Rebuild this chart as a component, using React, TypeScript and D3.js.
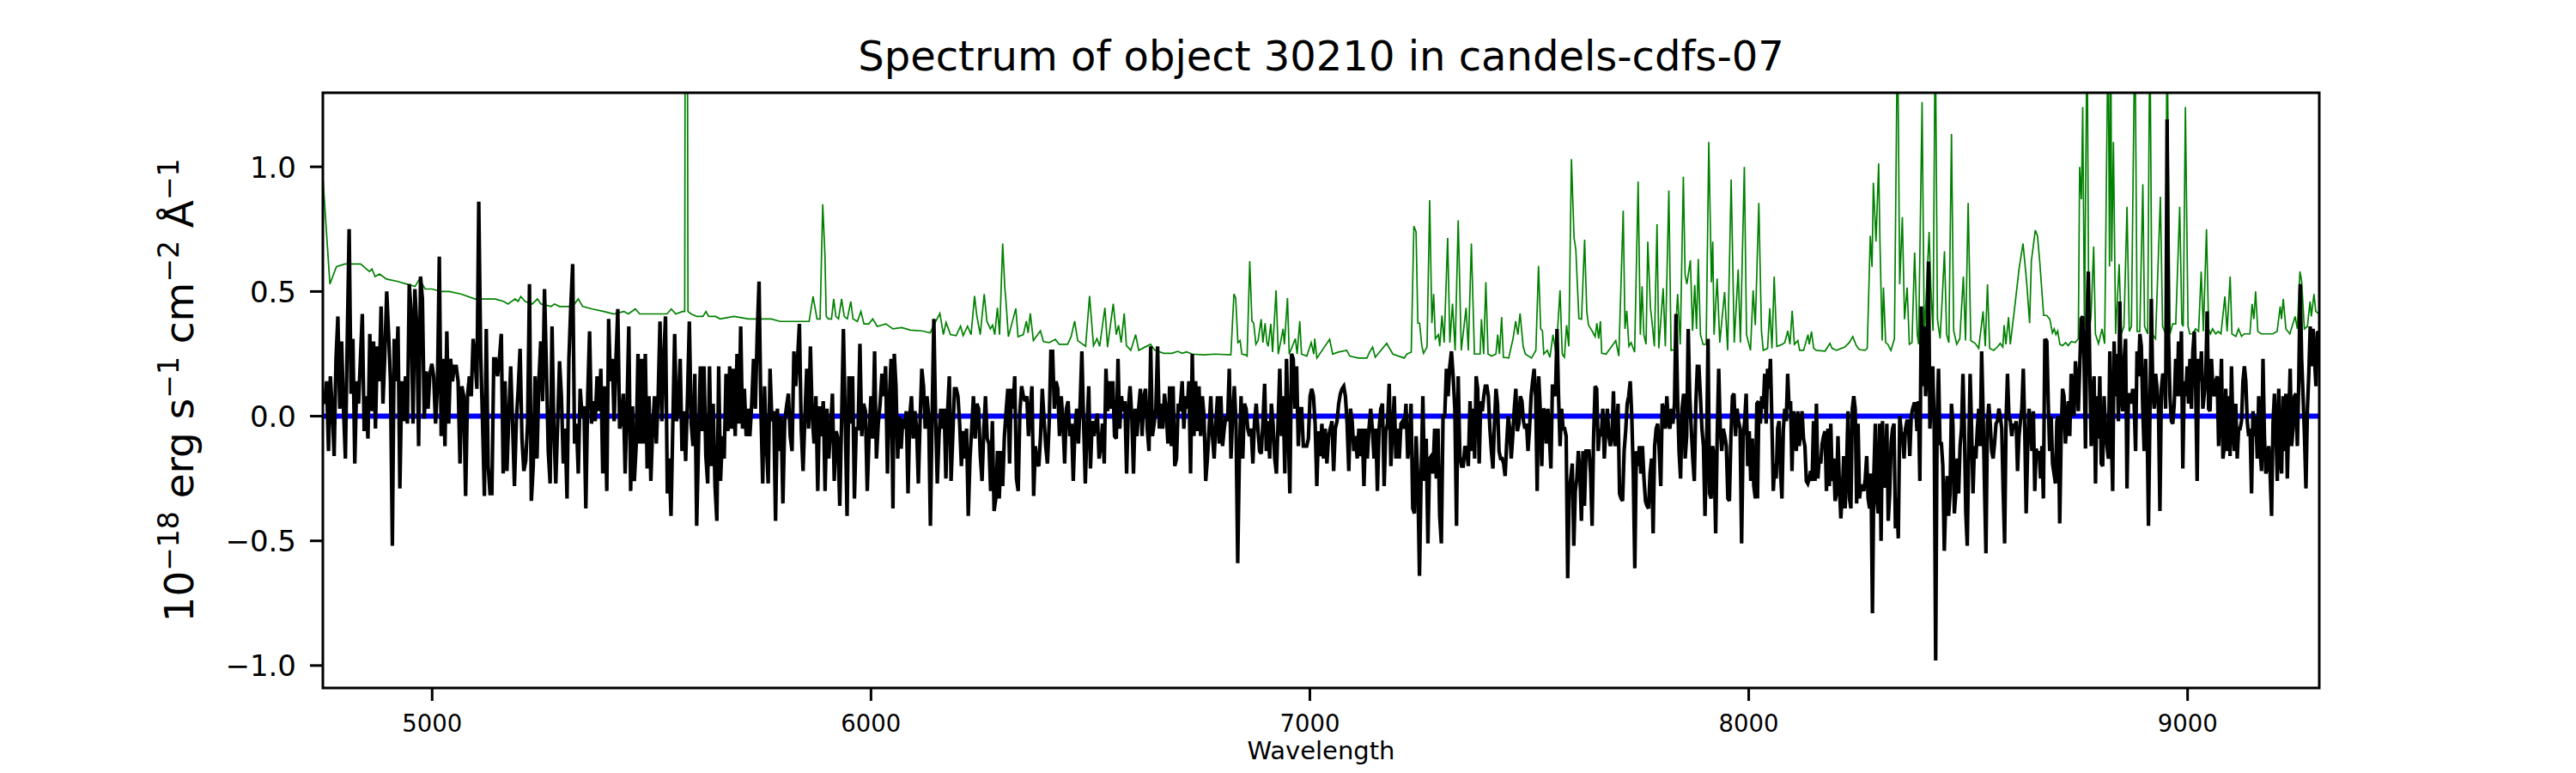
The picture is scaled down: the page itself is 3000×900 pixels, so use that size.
import React from "react";
import * as d3 from "d3";

// ---------- data ----------
const titleText = "Spectrum of object 30210 in candels-cdfs-07";
const xLabelText = "Wavelength";
const xTickValues = [5000, 6000, 7000, 8000, 9000];
const yTickValues = [-1.0, -0.5, 0.0, 0.5, 1.0];
const xDomain = [4751, 9300];
const yDomain = [-1.09, 1.297];

// wavelength ranges covered by each flux segment (evenly sampled inside)
const segmentRanges = [
  [4751, 5393],
  [5398, 6050],
  [6053, 6704],
  [6709, 7361],
  [7365, 8022],
  [8020, 8678],
  [8676, 9299],
];

const fluxSeg1 = [0.05,0.06,0.14,-0.14,0.16,0.03,-0.16,0.23,0.40,0.03,0.30,0.03,-0.17,0.31,0.75,0.09,0.31,-0.19,0.14,0.05,0.23,0.41,-0.06,0.08,-0.09,0.33,0.02,0.30,-0.05,0.28,0.14,0.44,0.05,0.25,0.50,0.33,0.14,-0.52,0.31,0.14,0.36,-0.29,0.14,-0.02,0.16,-0.03,0.53,0.42,-0.03,0.51,0.36,-0.12,0.56,0.47,-0.01,0.18,0.03,0.17,0.21,0.16,-0.03,0.12,0.64,-0.08,0.23,-0.12,0.34,-0.03,0.23,0.14,0.20,0.20,0.14,-0.19,0.12,0.08,-0.32,0.08,0.16,0.08,0.31,0.23,0.11,0.86,0.26,-0.02,-0.32,0.35,-0.20,-0.31,-0.31,0.23,0.23,0.16,0.23,0.33,-0.23,0.14,-0.22,0.00,0.20,-0.03,-0.28,-0.02,0.11,0.27,-0.09,-0.22,-0.18,-0.03,0.53,-0.34,-0.20,0.16,-0.17,0.14,0.30,0.06,0.51,0.20,-0.14,-0.27,0.36,-0.05,-0.27,-0.03,0.22,0.08,-0.19,-0.05,-0.33,0.23,0.44,0.61,-0.11,-0.03,-0.23,0.11,0.00,0.04,-0.37,0.08,0.34,-0.03,0.06,-0.02,0.16,0.02,0.19,-0.23,0.12];

const fluxSeg2 = [-0.30,0.39,0.14,0.23,-0.02,0.23,0.43,-0.05,-0.02,0.09,-0.23,0.03,0.36,-0.30,0.04,-0.26,-0.12,0.25,-0.11,0.23,-0.11,0.25,-0.21,0.08,-0.26,-0.05,0.08,-0.11,0.08,0.38,-0.02,0.22,0.40,-0.31,-0.17,-0.40,-0.03,0.33,-0.02,0.03,0.23,-0.14,0.02,-0.18,0.08,0.38,-0.03,-0.12,0.17,-0.44,-0.11,0.20,-0.06,0.20,-0.16,-0.27,0.20,-0.20,0.05,-0.28,-0.42,0.20,-0.26,-0.08,-0.17,0.17,-0.06,0.20,-0.05,0.19,-0.08,0.25,-0.03,0.36,-0.05,0.11,-0.08,0.03,-0.08,0.05,0.23,0.03,0.33,0.54,0.03,-0.27,0.12,-0.11,-0.27,0.19,-0.02,0.02,-0.42,0.03,-0.14,0.00,-0.35,-0.02,0.04,0.09,-0.08,-0.14,0.26,0.12,0.23,0.37,-0.05,-0.22,0.00,0.19,-0.05,0.28,0.00,-0.11,0.08,-0.30,0.04,-0.08,0.06,-0.30,0.03,-0.17,-0.05,0.09,-0.26,-0.06,-0.09,-0.36,-0.02,0.35,-0.02,-0.40,0.16,-0.03,0.16,-0.33,-0.05,-0.05,0.29,-0.08,0.05,0.02,-0.30,-0.08,0.08,-0.09,0.26,-0.17,-0.03,0.05,0.17,0.08,0.20,-0.23,0.06,0.23,-0.37];

const fluxSeg3 = [0.25,0.12,-0.17,0.00,-0.13,-0.01,-0.05,0.02,-0.31,0.00,0.08,-0.09,0.02,-0.05,-0.27,-0.02,0.19,0.12,-0.05,0.08,0.00,-0.44,0.00,0.39,0.00,-0.27,-0.08,0.03,-0.05,0.03,-0.25,0.02,0.16,-0.26,-0.08,0.11,0.11,0.08,-0.03,-0.20,-0.06,-0.17,-0.05,-0.40,-0.17,-0.05,0.08,-0.09,0.05,0.03,-0.16,-0.26,-0.06,0.08,-0.09,-0.11,-0.30,-0.02,-0.38,-0.33,-0.14,-0.33,-0.14,-0.28,-0.08,0.02,0.11,-0.19,0.11,0.03,0.16,-0.25,-0.30,0.02,0.12,0.08,0.06,0.08,-0.08,0.03,0.12,-0.32,-0.12,-0.19,-0.20,-0.08,0.11,-0.01,-0.12,-0.19,-0.03,0.26,0.26,0.03,0.14,0.11,-0.08,0.08,-0.02,-0.19,0.03,0.06,-0.08,-0.03,-0.26,-0.05,0.03,-0.11,0.05,0.26,-0.02,-0.27,-0.05,0.12,-0.21,-0.02,-0.08,-0.03,0.01,-0.17,-0.12,-0.03,-0.19,0.19,0.02,0.14,0.03,0.14,-0.08,-0.09,0.23,-0.05,0.08,0.02,0.06,-0.23,0.03,0.12,0.00,-0.23,0.03,-0.08,0.03,0.11,-0.08,0.08,0.11,-0.05,-0.14,0.28,-0.08,-0.03,0.03,0.28,-0.05,0.05,-0.05,0.09,0.02,-0.11,0.12,-0.12,0.12,-0.20,-0.17,0.05,0.02];

const fluxSeg4 = [0.14,-0.05,0.08,0.03,0.14,-0.23,0.25,-0.08,0.14,-0.06,0.12,-0.08,0.08,0.00,-0.26,-0.17,-0.05,0.08,-0.08,-0.17,-0.03,0.08,-0.11,0.08,-0.12,-0.05,0.00,-0.02,0.19,-0.17,0.00,0.12,-0.03,-0.59,-0.16,0.08,-0.17,0.05,0.03,-0.05,-0.08,-0.05,-0.19,-0.02,0.05,-0.05,-0.14,-0.15,-0.02,0.13,-0.14,-0.02,-0.17,0.05,-0.03,-0.17,-0.23,-0.02,0.19,-0.08,0.08,-0.23,0.23,-0.05,-0.31,0.25,0.23,0.03,0.20,-0.12,0.03,0.03,-0.12,-0.12,-0.12,-0.09,0.08,0.11,0.08,-0.03,-0.28,-0.06,-0.16,-0.03,-0.17,-0.05,-0.19,-0.08,-0.05,-0.02,-0.22,-0.05,-0.02,0.05,0.09,0.11,0.12,0.08,-0.03,-0.22,0.03,-0.02,-0.14,-0.08,-0.17,-0.05,-0.16,-0.05,-0.28,-0.05,-0.17,-0.05,0.03,-0.05,-0.17,-0.05,-0.30,-0.05,0.03,0.05,-0.28,-0.06,-0.03,0.13,-0.20,-0.05,0.08,-0.17,-0.05,-0.17,-0.03,-0.02,-0.05,0.05,-0.17,-0.11,0.05,-0.37,-0.39,-0.08,-0.25,-0.64,-0.23,0.08,-0.26,-0.09,-0.51,-0.17,-0.16,-0.23,-0.05,-0.25,-0.05,-0.40,-0.51,0.00,0.00,0.19,0.08,0.20,0.26,0.16,0.03,-0.44,0.16,-0.16,-0.20,-0.20,-0.12,-0.14,-0.20];

const fluxSeg5 = [0.06,-0.14,0.03,-0.17,0.16,0.11,-0.19,0.06,0.02,0.08,0.12,0.12,0.08,-0.05,-0.14,-0.21,-0.03,0.11,0.05,-0.14,-0.17,-0.17,-0.19,-0.24,-0.11,0.00,-0.05,-0.17,-0.08,0.03,0.11,-0.06,-0.03,0.08,0.06,-0.02,-0.05,-0.03,-0.14,-0.05,0.08,0.14,0.19,0.08,-0.30,0.16,0.03,-0.20,0.03,0.02,-0.11,0.03,-0.08,-0.21,0.12,0.12,0.08,0.35,0.08,-0.12,0.03,-0.05,-0.05,-0.08,-0.65,-0.30,-0.25,-0.19,-0.52,-0.30,-0.25,-0.14,-0.23,-0.42,-0.14,-0.36,-0.14,-0.14,-0.14,-0.23,-0.44,-0.08,0.12,0.11,-0.14,-0.05,-0.08,0.03,-0.17,-0.05,0.03,-0.08,-0.12,-0.08,0.10,-0.12,-0.08,0.05,-0.31,-0.33,-0.34,-0.14,-0.06,0.05,0.08,0.14,0.00,-0.23,-0.61,-0.14,-0.20,-0.12,-0.23,-0.12,-0.25,-0.34,-0.36,-0.37,-0.23,-0.17,-0.47,-0.12,-0.05,-0.03,-0.14,-0.28,0.05,0.02,-0.05,0.08,-0.03,-0.05,0.03,-0.03,0.05,0.41,0.08,-0.14,-0.25,0.03,0.09,-0.17,-0.08,0.35,0.08,-0.05,-0.17,-0.26,0.05,0.20,0.20,0.08,-0.05,-0.12,-0.40,-0.14,0.31,-0.31,-0.33,-0.12,-0.16,-0.47,-0.08,0.19,-0.05,-0.14,-0.05,-0.08,-0.12,-0.33,-0.34,-0.08,0.08,0.09,-0.08,0.03,-0.02,-0.05,-0.51,-0.08,-0.02,0.09,-0.20,-0.06,-0.26,-0.09,-0.28,-0.33,0.05,0.06];

const fluxSeg6 = [-0.33,0.06,-0.03,0.08,0.03,0.17,-0.03,0.19,0.11,0.23,-0.02,-0.30,-0.19,-0.25,-0.05,-0.02,-0.22,-0.33,-0.05,0.03,-0.02,0.17,0.03,0.06,-0.22,0.02,-0.02,-0.14,0.02,-0.12,-0.06,0.02,-0.09,-0.12,-0.26,-0.27,-0.25,-0.22,-0.26,-0.02,-0.26,0.05,-0.25,-0.17,-0.19,-0.11,-0.08,-0.06,-0.30,-0.05,-0.28,-0.03,-0.26,-0.17,-0.34,-0.31,-0.08,-0.28,-0.41,-0.31,-0.16,-0.37,-0.20,0.02,-0.33,-0.37,0.03,0.08,0.03,-0.35,-0.03,-0.33,-0.28,-0.28,-0.30,-0.25,-0.16,-0.33,-0.37,-0.23,-0.79,-0.23,-0.03,-0.33,-0.39,-0.03,-0.50,-0.02,-0.28,-0.28,-0.03,-0.42,-0.31,-0.11,-0.05,-0.03,-0.45,-0.33,-0.49,0.00,-0.06,-0.08,-0.17,-0.05,-0.02,-0.02,-0.16,0.00,0.03,0.05,0.05,-0.06,0.06,-0.26,0.44,0.12,0.36,0.08,0.20,0.62,-0.05,0.08,0.20,-0.05,-0.98,-0.02,0.19,-0.11,-0.11,-0.20,-0.54,-0.34,-0.24,-0.40,-0.31,0.05,-0.03,-0.39,-0.31,-0.17,-0.31,-0.12,-0.05,0.17,-0.05,-0.39,-0.52,-0.14,0.17,-0.05,-0.31,-0.12,-0.17,-0.05,0.03,-0.12,0.26,0.02,-0.28,-0.55,-0.03,0.05,-0.03,-0.14,-0.17,-0.11,-0.03,-0.02,0.03,0.00,-0.05,-0.30,-0.51,-0.02,0.17,0.00,-0.02,-0.08,-0.03,-0.05,-0.02,-0.22,-0.08,-0.02,0.03,0.19,-0.05,-0.39,-0.14,0.03,-0.03,-0.14,0.02,-0.30,-0.13,-0.17,-0.14,-0.25,-0.12,-0.33,0.31,0.20];

const fluxSeg7 = [0.31,0.30,0.05,-0.14,0.00,-0.19,-0.23,-0.27,-0.02,0.00,-0.43,-0.08,0.11,0.08,-0.11,-0.02,0.06,-0.08,0.17,0.12,0.00,0.22,0.14,0.02,0.20,0.39,0.40,0.23,-0.13,0.39,0.58,0.20,-0.12,0.08,0.16,-0.27,0.08,-0.09,0.16,-0.19,-0.20,0.08,-0.05,-0.12,-0.17,0.26,-0.06,-0.30,0.30,0.08,0.25,-0.02,0.46,0.08,0.02,0.23,0.31,-0.29,0.08,0.09,0.05,0.11,0.05,-0.14,0.26,0.16,0.33,0.28,0.03,-0.14,0.23,0.00,-0.44,0.00,0.47,0.11,0.03,0.17,0.11,0.03,-0.38,0.11,0.17,0.16,0.03,1.19,0.33,0.08,-0.02,-0.03,0.05,0.23,0.08,0.30,0.08,0.34,-0.21,0.14,0.08,0.20,0.05,0.23,0.03,0.26,0.34,0.11,-0.26,0.23,0.14,0.26,0.03,0.09,0.16,0.42,0.03,0.02,0.23,0.11,0.08,0.14,0.16,-0.12,0.03,0.23,-0.17,-0.12,0.11,-0.14,0.08,-0.16,0.20,-0.05,-0.14,0.05,-0.17,-0.05,-0.05,-0.02,0.14,0.20,0.14,-0.02,-0.08,-0.05,-0.31,0.02,-0.08,0.00,-0.17,0.08,-0.14,-0.22,0.23,-0.08,-0.23,-0.20,-0.12,-0.23,-0.40,-0.03,0.09,-0.05,-0.26,0.11,-0.17,-0.23,0.08,-0.14,0.09,-0.25,0.00,0.19,-0.12,-0.05,0.08,0.09,-0.12,0.14,0.53,0.23,0.08,-0.08,-0.29,0.02,0.17,0.36,0.20,0.35,0.23,0.12,0.34,0.33];

const fluxSegments = [fluxSeg1, fluxSeg2, fluxSeg3, fluxSeg4, fluxSeg5, fluxSeg6, fluxSeg7];

// sky spectrum (green): wavelength / flux pairs
const skyWave = [
  4751,4767,4782,4801,4837,4857,4863,4870,4880,4896,4922,4941,4961,4971,4984,5000,5020,5039,5065,5098,5118,5144,5163,5173,5189,5196,5202,5212,5228,5240,5248,5271,5279,5290,5320,5333,5343,5365,5391,
  5414,5437,5447,5463,5473,5512,5535,5545,5555,5571,5575.5,5577.5,5580.5,5583,5590,5603,5617,5624,5630,5646,5656,5688,5721,5747,5773,5793,5819,5859,5868,5877,5884,5890,5895,5898,5903,5910,5915,5920,5926,5933,5939,5946,5954,5959,5969,5977,5984,5995,6004,6014,6034,6050,
  6070,6090,6116,6135,6142,6157,6165,6171,6181,6194,6204,6210,6220,6228,6236,6241,6249,6258,6264,6272,6277,6282,6288,6293,6300,6305,6307,6313,6319,6330,6335,6347,6354,6358,6363,6370,6386,6393,6406,6420,6429,6448,6456,6464,6471,6489,6498,6507,6515,6521,6533,6539,6552,6559,6564,6570,6577,6582,6592,6603,6610,6624,6637,6647,6667,6686,6699,
  6709,6719,6732,6758,6784,6820,6827,6831,6836,6841,6845,6853,6857,6863,6868,6872,6877,6882,6889,6893,6898,6902,6905,6911,6915,6923,6928,6939,6942,6949,6953,6967,6971,6977,6981,6993,7003,7009,7011,7016,7045,7052,7065,7084,7091,7110,7130,7136,7143,7149,7175,7189,7215,7221,7231,7237,7242,7246,7250,7255,7259,7267,7273,7278,7282,7286,7293,7296,7301,7306,7314,7319,7325,7331,7338,7345,7356,7361,7368,
  7375,7388,7391,7396,7401,7406,7414,7424,7428,7432,7437,7441,7453,7463,7469,7474,7479,7486,7491,7505,7515,7521,7526,7530,7533,7541,7547,7554,7561,7570,7575,7580,7585,7590,7596,7602,7606,7613,7619,7626,7631,7635,7643,7650,7654,7658,7662,7665,7675,7681,7691,7697,7704,7714,7718,7722,7727,7732,7740,7748,7753,7757,7761,7766,7770,7776,7779,7785,7791,7795,7805,7810,7818,7823,7831,7838,7844,7851,7855,7859,7867,7872,7877,7881,7885,7890,7896,7903,7909,7915,7918,7921,7928,7934,7945,7952,7960,7967,7976,7981,7990,7995,8004,8010,8015,8023,
  8029,8033,8043,8048,8053,8058,8064,8069,8076,8082,8089,8094,8099,8104,8112,8116,8125,8135,8138,8143,8148,8154,8174,8185,8190,8200,8219,8229,8237,8245,8252,8265,8270,8277,8281,8284,8290,8296,8299,8304,8307,8312,8317,8324,8332,8339,8344,8350,8355,8361,8366,8372,8378,8384,8387,8395,8400,8406,8411,8415,8420,8425,8430,8436,8441,8446,8451,8456,8462,8467,8474,8481,8489,8494,8500,8506,8516,8524,8534,8539,8544,8549,8558,8568,8573,8579,8582,8586,8592,8596,8607,8616,8625,8633,8640,8644,8653,8658,8663,8672,
  8679,8686,8692,8696,8700,8704,8709,8715,8722,8728,8735,8744,8751,8754,8758,8761,8765,8771,8775,8780,8786,8790,8797,8805,8811,8819,8822,8825,8827,8831,8836,8844,8849,8855,8862,8867,8872,8880,8885,8891,8898,8902,8909,8914,8919,8927,8938,8943,8950,8953,8960,8966,8973,8982,8987,8990,8995,9001,9005,9012,9018,9025,9031,9036,9043,9048,9052,9057,9064,9070,9076,9085,9090,9097,9101,9110,9116,9123,9129,9142,9147,9151,9155,9160,9168,9181,9194,9204,9211,9214,9218,9224,9233,9245,9250,9256,9260,9266,9273,9279,9282,9288,9292,9300,
];
const skyFlux = [
  0.96,0.53,0.60,0.61,0.61,0.58,0.59,0.56,0.57,0.55,0.54,0.53,0.52,0.55,0.51,0.51,0.50,0.50,0.49,0.47,0.47,0.47,0.46,0.45,0.47,0.46,0.48,0.46,0.45,0.47,0.45,0.44,0.45,0.44,0.44,0.47,0.44,0.43,0.42,
  0.41,0.42,0.41,0.43,0.41,0.41,0.41,0.43,0.41,0.42,0.42,2.6,2.6,0.42,0.41,0.40,0.40,0.42,0.40,0.40,0.39,0.40,0.39,0.39,0.39,0.38,0.38,0.38,0.48,0.39,0.39,0.85,0.65,0.40,0.39,0.39,0.47,0.40,0.39,0.47,0.40,0.39,0.46,0.39,0.38,0.42,0.37,0.37,0.39,0.36,0.37,0.35,
  0.355,0.345,0.342,0.334,0.361,0.412,0.327,0.376,0.327,0.323,0.361,0.323,0.361,0.327,0.482,0.404,0.327,0.490,0.381,0.350,0.365,0.327,0.435,0.327,0.692,0.513,0.474,0.319,0.358,0.432,0.319,0.327,0.381,0.334,0.412,0.303,0.342,0.299,0.295,0.308,0.288,0.288,0.319,0.381,0.303,0.280,0.482,0.283,0.311,0.280,0.435,0.277,0.451,0.327,0.365,0.295,0.412,0.283,0.264,0.327,0.264,0.277,0.288,0.264,0.252,0.252,0.260,
  0.252,0.258,0.249,0.246,0.249,0.246,0.490,0.474,0.295,0.303,0.249,0.246,0.241,0.622,0.381,0.373,0.288,0.303,0.389,0.295,0.373,0.295,0.280,0.370,0.257,0.505,0.249,0.350,0.288,0.474,0.249,0.311,0.249,0.381,0.249,0.241,0.295,0.249,0.311,0.233,0.308,0.249,0.257,0.264,0.241,0.233,0.233,0.257,0.277,0.236,0.292,0.249,0.233,0.249,0.257,0.762,0.739,0.373,0.373,0.283,0.252,0.277,0.866,0.373,0.490,0.311,0.327,0.280,0.404,0.295,0.715,0.295,0.451,0.264,0.785,0.264,0.435,0.264,0.692,
  0.249,0.249,0.389,0.249,0.537,0.249,0.241,0.249,0.327,0.249,0.397,0.236,0.233,0.311,0.381,0.327,0.412,0.280,0.249,0.233,0.264,0.603,0.350,0.342,0.249,0.264,0.236,0.327,0.249,0.505,0.249,0.236,0.365,0.280,1.031,0.715,0.669,0.392,0.389,0.708,0.420,0.365,0.342,0.319,0.373,0.311,0.381,0.252,0.249,0.264,0.288,0.303,0.241,0.824,0.350,0.423,0.280,0.295,0.257,0.941,0.327,0.521,0.327,0.288,0.700,0.435,0.389,0.280,0.770,0.272,0.513,0.280,0.905,0.264,0.267,0.490,0.288,0.960,0.568,0.529,0.625,0.342,0.526,0.350,0.630,0.327,0.288,0.288,1.100,0.537,0.700,0.327,0.552,0.295,0.498,0.264,0.949,0.295,0.588,0.295,1.000,0.327,0.264,0.505,0.365,0.855,
  0.342,0.264,0.272,0.432,0.272,0.560,0.280,0.283,0.288,0.295,0.342,0.288,0.423,0.288,0.303,0.264,0.264,0.327,0.288,0.339,0.272,0.264,0.261,0.292,0.272,0.264,0.277,0.295,0.319,0.283,0.267,0.264,0.272,0.723,0.599,0.936,0.700,1.014,0.700,0.303,0.516,0.295,0.288,0.264,0.311,1.6,0.529,0.798,0.389,0.516,0.288,0.295,0.656,0.327,0.288,1.26,0.311,0.544,0.739,0.513,0.342,1.6,0.389,0.311,0.474,0.661,0.327,0.295,1.132,0.342,0.288,0.311,0.560,0.303,0.855,0.303,0.292,0.272,0.420,0.280,0.529,0.272,0.264,0.280,0.292,0.277,0.365,0.288,0.397,0.288,0.451,0.591,0.692,0.544,0.373,0.622,0.746,0.723,0.622,0.404,
  0.404,0.389,0.334,0.350,0.327,0.342,0.288,0.283,0.295,0.283,0.299,0.295,0.31,1.00,0.87,1.24,0.36,1.6,0.33,0.40,0.68,0.33,0.29,0.35,0.29,1.6,0.60,1.6,0.62,1.10,0.33,0.61,0.33,0.36,0.84,0.34,0.36,1.6,0.34,0.34,0.93,0.36,0.33,1.6,0.33,0.31,0.88,0.36,0.33,1.6,0.33,0.37,0.37,0.84,0.37,0.36,1.24,0.36,0.33,0.33,0.35,0.34,0.58,0.34,0.75,0.35,0.33,0.35,0.33,0.34,0.33,0.48,0.34,0.56,0.33,0.32,0.35,0.32,0.33,0.33,0.45,0.39,0.50,0.34,0.33,0.33,0.33,0.34,0.44,0.39,0.47,0.35,0.33,0.40,0.35,0.58,0.54,0.35,0.36,0.46,0.40,0.49,0.42,0.41,
];

// ---------- layout ----------
const W = 3000;
const H = 900;
const plotLeft = 376;
const plotRight = 2701;
const plotTop = 108;
const plotBottom = 801;
const FONT = "'DejaVu Sans', sans-serif";

export default function App() {
  const x = d3.scaleLinear().domain(xDomain).range([plotLeft, plotRight]);
  const y = d3.scaleLinear().domain(yDomain).range([plotBottom, plotTop]);

  const spectrum: [number, number][] = [];
  fluxSegments.forEach((seg, k) => {
    const [a, b] = segmentRanges[k];
    seg.forEach((v, i) => {
      spectrum.push([a + ((b - a) * i) / (seg.length - 1), v]);
    });
  });

  const sky: [number, number][] = [];
  const n = Math.min(skyWave.length, skyFlux.length);
  for (let i = 0; i < n; i++) sky.push([skyWave[i], skyFlux[i]]);

  const line = d3
    .line<[number, number]>()
    .x((d) => x(d[0]))
    .y((d) => y(d[1]));

  const zeroPath = line([
    [xDomain[0], 0],
    [xDomain[1], 0],
  ]);

  const fmtY = (v: number) => (v < 0 ? "\u2212" : "") + Math.abs(v).toFixed(1);

  const cx = (plotLeft + plotRight) / 2;
  const cy = (plotTop + plotBottom) / 2;
  const supShift = -17;
  const supSize = "0.7em";

  return (
    <svg
      width={W}
      height={H}
      viewBox={`0 0 ${W} ${H}`}
      style={{ position: "absolute", left: 0, top: 0, background: "#fff" }}
      fontFamily={FONT}
    >
      <rect x={0} y={0} width={W} height={H} fill="#fff" />
      <defs>
        <clipPath id="plotClip">
          <rect x={plotLeft} y={plotTop} width={plotRight - plotLeft} height={plotBottom - plotTop} />
        </clipPath>
      </defs>

      <g clipPath="url(#plotClip)">
        <path d={line(sky) || ""} fill="none" stroke="#008000" strokeWidth={1.7} />
        <path d={zeroPath || ""} fill="none" stroke="#0000ff" strokeWidth={6} />
        <path d={line(spectrum) || ""} fill="none" stroke="#000" strokeWidth={4.2} strokeLinejoin="miter" strokeMiterlimit={3} />
      </g>

      {/* frame */}
      <rect
        x={plotLeft}
        y={plotTop}
        width={plotRight - plotLeft}
        height={plotBottom - plotTop}
        fill="none"
        stroke="#000"
        strokeWidth={3}
      />

      {/* x ticks */}
      {xTickValues.map((t) => (
        <g key={"x" + t}>
          <line x1={x(t)} x2={x(t)} y1={plotBottom} y2={plotBottom + 15} stroke="#000" strokeWidth={3} />
          <text x={x(t)} y={852} fontSize={27.5} textAnchor="middle" fill="#000">
            {t}
          </text>
        </g>
      ))}

      {/* y ticks */}
      {yTickValues.map((t) => (
        <g key={"y" + t}>
          <line x1={plotLeft - 15} x2={plotLeft} y1={y(t)} y2={y(t)} stroke="#000" strokeWidth={3} />
          <text x={345} y={y(t) + 12.5} fontSize={34} textAnchor="end" fill="#000">
            {fmtY(t)}
          </text>
        </g>
      ))}

      {/* title */}
      <text x={cx} y={82} fontSize={48} textAnchor="middle" fill="#000">
        {titleText}
      </text>

      {/* x label */}
      <text x={cx} y={884} fontSize={29} textAnchor="middle" fill="#000">
        {xLabelText}
      </text>

      {/* y label */}
      <text
        transform={`translate(225, ${cy}) rotate(-90)`}
        fontSize={47}
        textAnchor="middle"
        fill="#000"
      >
        <tspan>10</tspan>
        <tspan dy={supShift} fontSize={supSize}>{"\u221218"}</tspan>
        <tspan dy={-supShift}>{" erg s"}</tspan>
        <tspan dy={supShift} fontSize={supSize}>{"\u22121"}</tspan>
        <tspan dy={-supShift}>{" cm"}</tspan>
        <tspan dy={supShift} fontSize={supSize}>{"\u22122"}</tspan>
        <tspan dy={-supShift}>{" \u00C5"}</tspan>
        <tspan dy={supShift} fontSize={supSize}>{"\u22121"}</tspan>
      </text>
    </svg>
  );
}
